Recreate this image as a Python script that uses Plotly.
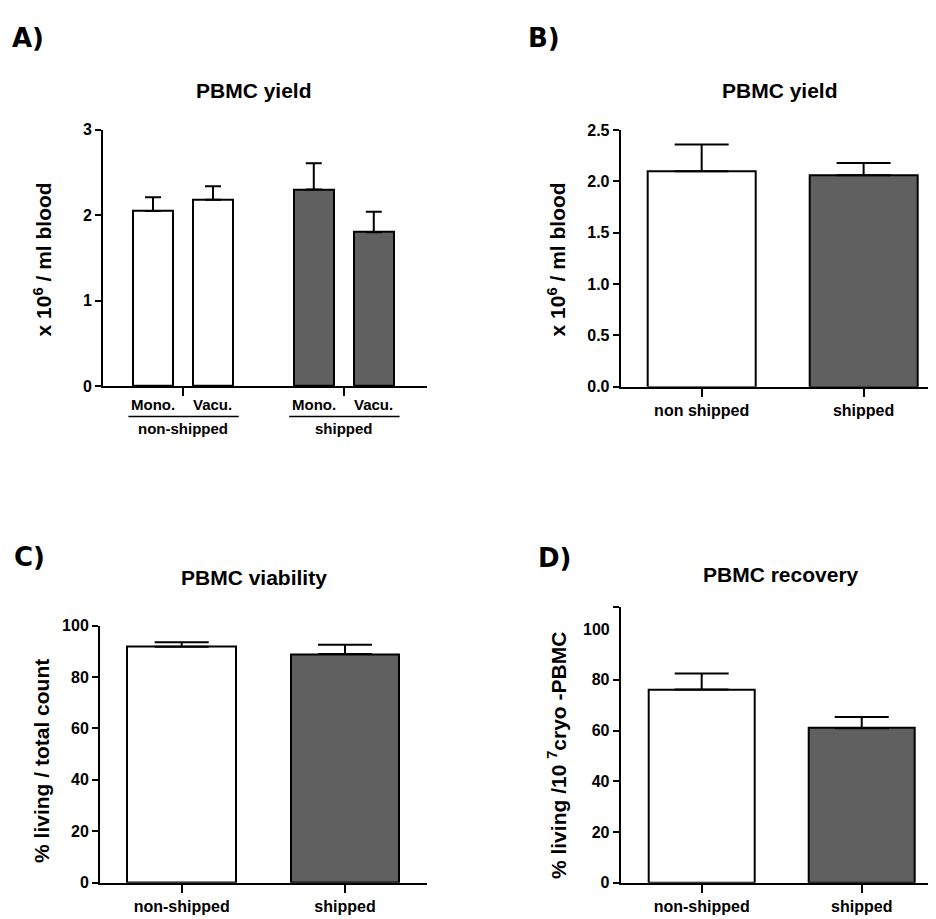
import plotly.graph_objects as go

# ---------------- data ----------------
a_groups = ["non-shipped", "shipped"]
a_methods = ["Mono.", "Vacu."]
a_yield = [[2.05, 2.18], [2.30, 1.80]]
a_err = [[0.16, 0.16], [0.31, 0.24]]

b_cats = ["non shipped", "shipped"]
b_yield = [2.10, 2.06]
b_err = [0.26, 0.12]

c_cats = ["non-shipped", "shipped"]
c_viab = [91.7, 88.9]
c_err = [1.8, 3.6]

d_cats = ["non-shipped", "shipped"]
d_recov = [76.2, 60.9]
d_err = [6.3, 4.5]

colors = ["#ffffff", "#606060"]

# ---------------- layout helpers ----------------
W, H = 936, 919
OFF = 8  # page body margin
def px(p):
    return (p - OFF) / W
def py(p):
    return (H - (p - OFF)) / H

TICKF = "Liberation Sans, Arial, sans-serif"
WIDE = "Liberation Sans, Arial, sans-serif"
LETTER = "DejaVu Sans, sans-serif"
GAP = 2.68  # spacing between group starts in panel A (category units)
BW = 2 / 3

fig = go.Figure()

# Panel A
for g, grp in enumerate(a_groups):
    xs = [g * GAP + i for i in range(len(a_methods))]
    fig.add_trace(go.Bar(
        x=xs, y=a_yield[g], width=BW,
        marker=dict(color=colors[g], line=dict(color="black", width=2)),
        error_y=dict(type="data", symmetric=False, array=a_err[g],
                     arrayminus=[0] * len(xs), color="black", thickness=2, width=8),
        xaxis="x", yaxis="y", showlegend=False))

# Panel B, C, D
for cats, vals, errs, ax in [(b_cats, b_yield, b_err, "2"),
                             (c_cats, c_viab, c_err, "3"),
                             (d_cats, d_recov, d_err, "4")]:
    fig.add_trace(go.Bar(
        x=cats, y=vals, width=BW,
        marker=dict(color=colors, line=dict(color="black", width=2)),
        error_y=dict(type="data", symmetric=False, array=errs,
                     arrayminus=[0] * len(vals), color="black", thickness=2, width=27),
        xaxis="x" + ax, yaxis="y" + ax, showlegend=False))

ax_common = dict(showline=True, linecolor="black", linewidth=2, ticks="outside",
                 tickcolor="black", tickwidth=2, showgrid=False, zeroline=False,
                 fixedrange=True)
tickfont_y = dict(family=TICKF, size=16, color="black", weight="bold")
tickfont_x = dict(family=TICKF, size=16, color="black", weight="bold")

group_centers = [g * GAP + (len(a_methods) - 1) / 2 for g in range(len(a_groups))]

fig.update_layout(
    width=W, height=H, margin=dict(l=0, r=0, t=0, b=0),
    paper_bgcolor="white", plot_bgcolor="white", showlegend=False, bargap=0,
    xaxis=dict(ax_common, domain=[px(103), px(427)], range=[-0.833, 4.567],
               tickvals=group_centers, ticktext=["", ""], ticklen=8, anchor="y"),
    yaxis=dict(ax_common, domain=[py(385), py(124)], range=[0, 3],
               tickvals=[0, 1, 2, 3], ticklen=6, tickfont=tickfont_y, anchor="x"),
    xaxis2=dict(ax_common, domain=[px(620.7), px(936)], range=[-0.5, 1.447],
                ticklen=8, tickfont=tickfont_x, anchor="y2"),
    yaxis2=dict(ax_common, domain=[py(385.7), py(124.3)], range=[0, 2.5],
                tickvals=[0, 0.5, 1.0, 1.5, 2.0, 2.5], tickformat=".1f",
                ticklen=6, tickfont=tickfont_y, anchor="x2"),
    xaxis3=dict(ax_common, domain=[px(100), px(426.7)], range=[-0.5, 1.5],
                ticklen=8, tickfont=tickfont_x, anchor="y3"),
    yaxis3=dict(ax_common, domain=[py(891), py(629)], range=[0, 100],
                tickvals=[0, 20, 40, 60, 80, 100], ticklen=6, tickfont=tickfont_y,
                anchor="x3"),
    xaxis4=dict(ax_common, domain=[px(620.7), px(936)], range=[-0.506, 1.464],
                ticklen=8, tickfont=tickfont_x, anchor="y4"),
    yaxis4=dict(ax_common, domain=[py(891), py(610)], range=[0, 108.8],
                tickvals=[0, 20, 40, 60, 80, 108.7],
                ticktext=["0", "20", "40", "60", "80", ""],
                ticklen=6, tickfont=tickfont_y, anchor="x4"),
)

ann = []
shapes = []
def txt(x, y, text, size, family=TICKF, xref="paper", yref="paper",
        xanchor="center", yanchor="middle", angle=0, xshift=0):
    ann.append(dict(x=x, y=y, text=text, xref=xref, yref=yref, showarrow=False,
                    xanchor=xanchor, yanchor=yanchor, textangle=angle, xshift=xshift,
                    font=dict(family=family, size=size, color="black", weight="bold")))

# panel letters
txt(px(10), py(30), "A)", 26, family=LETTER, xanchor="left")
txt(px(526), py(30), "B)", 26, family=LETTER, xanchor="left")
txt(px(12), py(559), "C)", 26, family=LETTER, xanchor="left")
txt(px(536), py(560), "D)", 26, family=LETTER, xanchor="left")

# titles
txt(px(254), py(84), "PBMC yield", 21, family=WIDE)
txt(px(780), py(84), "PBMC yield", 21, family=WIDE)
txt(px(254), py(580), "PBMC viability", 21, family=WIDE)
txt(px(781), py(577), "PBMC recovery", 21, family=WIDE)

# y-axis titles
txt(px(43), py(256), "x 10<sup>6</sup> / ml blood", 21, family=WIDE, angle=-90)
txt(px(557), py(256), "x 10<sup>6</sup> / ml blood", 21, family=WIDE, angle=-90)
txt(px(42), py(767), "% living / total count", 21, family=WIDE, angle=-90)
txt(px(557), py(762), "% living /10 <sup>7</sup>cryo -PBMC", 21, family=WIDE, angle=-90)

# panel D "100" label without tick
txt(0, 100, "100", 16, xref="x4 domain", yref="y4", xanchor="right", xshift=-9)

# panel A method labels, group lines and group labels
for g, grp in enumerate(a_groups):
    xs = [g * GAP + i for i in range(len(a_methods))]
    for x, m in zip(xs, a_methods):
        txt(x, py(404), m, 15, xref="x")
    shapes.append(dict(type="line", xref="x", yref="paper",
                       x0=xs[0] - 0.41, x1=xs[-1] + 0.43, y0=py(416), y1=py(416),
                       line=dict(color="black", width=1.5)))
    txt(group_centers[g], py(428), grp, 15, xref="x")

fig.update_layout(annotations=ann, shapes=shapes)
fig.write_html("out.html")
